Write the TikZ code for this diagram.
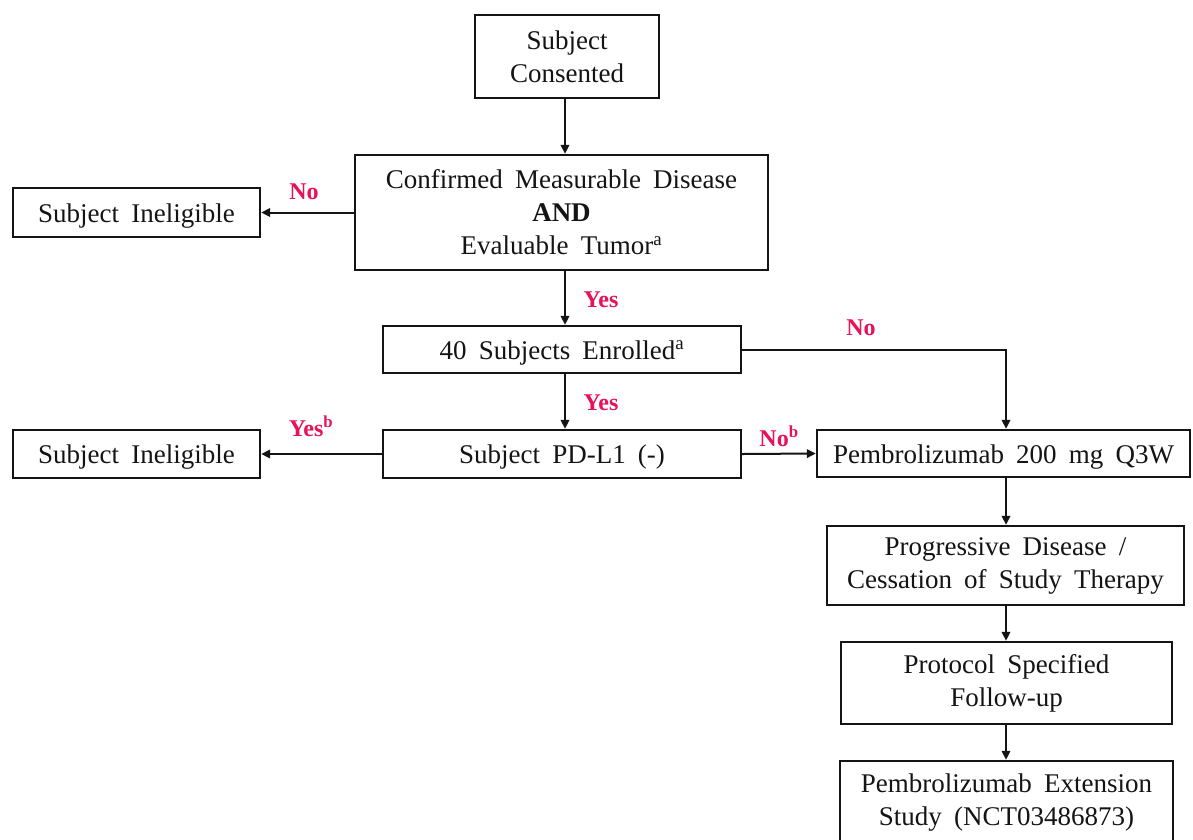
\documentclass[tikz,border=0pt]{standalone}
\usepackage{fontspec}
\setmainfont{Liberation Serif}[WordSpace={1.8,1,1}]
\usetikzlibrary{arrows.meta}
\definecolor{lblred}{RGB}{232,18,88}
\definecolor{ink}{RGB}{20,20,20}
\tikzset{
  box/.style={draw=ink, line width=2.4pt, rectangle, align=center, inner sep=0pt,
    text=ink, font=\fontsize{27}{33}\selectfont},
  oneline/.style={text height=25pt, text depth=6pt},
  arr/.style={draw=ink, line width=2pt, -{Triangle[length=9pt,width=8.5pt]}},
  lbl/.style={text=lblred, font=\fontsize{24}{28}\selectfont\bfseries, inner sep=0pt},
}
\begin{document}
\begin{tikzpicture}[x=1pt,y=-1pt]
\useasboundingbox[fill=white] (0,0) rectangle (1193,839);
\node[box, minimum width=184pt, minimum height=83pt] (cons) at (567,56.5) {Subject\\Consented};
\node[box, minimum width=413pt, minimum height=115pt] (conf) at (561.5,212.5) {Confirmed Measurable Disease\\\textbf{AND}\\Evaluable Tumor\textsuperscript{a}};
\node[box, oneline, minimum width=247pt, minimum height=49pt] (inel1) at (136.5,212.5) {Subject Ineligible};
\node[box, oneline, minimum width=358pt, minimum height=47pt] (enr) at (562,349.5) {40 Subjects Enrolled\textsuperscript{a}};
\node[box, oneline, minimum width=358pt, minimum height=48pt] (pdl) at (562,454) {Subject PD-L1 (-)};
\node[box, oneline, minimum width=247pt, minimum height=48pt] (inel2) at (136.5,454) {Subject Ineligible};
\node[box, oneline, minimum width=373pt, minimum height=47pt] (pem) at (1003.5,453.5) {Pembrolizumab 200 mg Q3W};
\node[box, minimum width=357pt, minimum height=79pt] (prog) at (1005.5,565.5) {Progressive Disease /\\Cessation of Study Therapy};
\node[box, minimum width=331pt, minimum height=82pt] (prot) at (1006.5,683) {Protocol Specified\\Follow-up};
\node[box, minimum width=333pt, minimum height=84pt] (ext) at (1006.5,803) {Pembrolizumab Extension\\Study (NCT03486873)};

\coordinate (colA) at (565,0);
\coordinate (colB) at (1006,0);

\draw[arr] (cons.south -| colA) -- (conf.north -| colA);
\draw[arr] (conf.south -| colA) -- (enr.north -| colA);
\draw[arr] (enr.south -| colA) -- (pdl.north -| colA);
\draw[arr] (conf.west) -- (inel1.east |- conf.west);
\draw[arr] (pdl.west) -- (inel2.east);
\draw[arr] (pdl.east) -- (pem.west);
\draw[arr] (enr.east) -| (pem.north -| colB);
\draw[arr] (pem.south -| colB) -- (prog.north -| colB);
\draw[arr] (prog.south -| colB) -- (prot.north -| colB);
\draw[arr] (prot.south -| colB) -- (ext.north -| colB);

\node[lbl] (l1) at (304,192) {No};
\node[lbl] (l2) at (601,300) {Yes};
\node[lbl] (l3) at (861,328) {No};
\node[lbl] (l4) at (601,403) {Yes};
\node[lbl] (l5) at (311,426) {Yes\textsuperscript{b}};
\node[lbl] (l6) at (779,436) {No\textsuperscript{b}};
\end{tikzpicture}
\end{document}
